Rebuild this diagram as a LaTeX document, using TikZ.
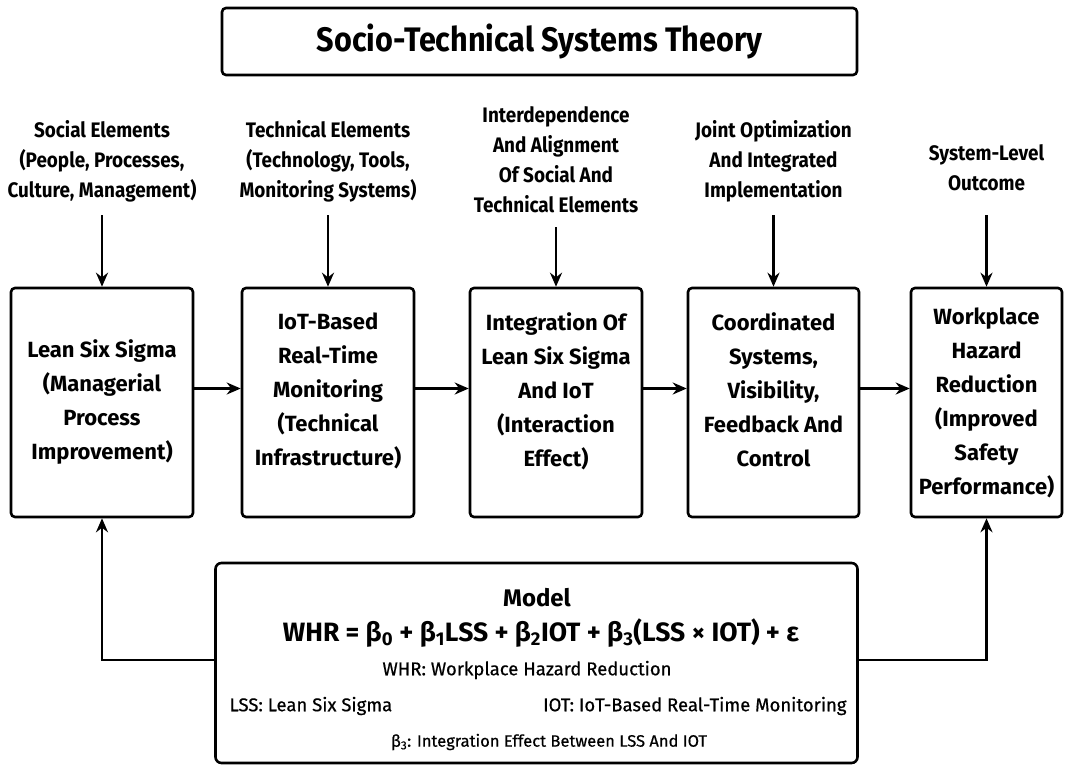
\documentclass[tikz,border=0pt]{standalone}
\usepackage{fontspec}
\setmainfont{Fira Sans}
\newfontfamily\condfont{Fira Sans}[FakeStretch=0.9]
\newfontfamily\legfont{Fira Sans}[FakeBold=0.6]
\usetikzlibrary{arrows.meta}

\tikzset{
  stbox/.style={draw, line width=2.6pt, rounded corners=4pt, align=center,
    minimum height=229pt, font=\fontsize{22}{34}\selectfont\bfseries},
  lift/.style={text depth=26pt},
  elem/.style={align=center, font=\condfont\fontsize{21}{30}\selectfont\bfseries},
  legend/.style={font=\legfont\fontsize{18.5}{20}\selectfont},
  arr/.style={-{Stealth[length=14pt,width=12pt]}, line width=2.4pt}
}

\begin{document}
\begin{tikzpicture}[x=1pt,y=-1pt]
  % Page size in pixels of the reference
  \useasboundingbox (0,0) rectangle (1065,766);

  % Title
  \node[draw, line width=2.6pt, rounded corners=4pt, minimum width=635pt,
        minimum height=67pt, font=\condfont\fontsize{34}{36}\selectfont\bfseries]
        (title) at (539.5,41.5) {Socio-Technical Systems Theory};

  % Main chain of boxes
  \node[stbox, minimum width=182pt] (lss) at (102,402.5)
        {Lean Six Sigma\\(Managerial\\Process\\Improvement)};
  \node[stbox, lift, minimum width=172pt] (iot) at (328,402.5)
        {IoT-Based\\Real-Time\\Monitoring\\(Technical\\Infrastructure)};
  \node[stbox, lift, minimum width=172pt] (integ) at (556,402.5)
        {Integration Of\\Lean Six Sigma\\And IoT\\(Interaction\\Effect)};
  \node[stbox, lift, minimum width=171pt] (coord) at (773.5,402.5)
        {Coordinated\\Systems,\\Visibility,\\Feedback And\\Control};
  \node[stbox, minimum width=151pt] (whr) at (986.5,402.5)
        {Workplace\\Hazard\\Reduction\\(Improved\\Safety\\Performance)};

  % STS elements above the boxes
  \node[elem, anchor=south] (social) at (102,206)
        {Social Elements\\(People, Processes,\\Culture, Management)};
  \node[elem, anchor=south] (techn) at (328,206)
        {Technical Elements\\(Technology, Tools,\\Monitoring Systems)};
  \node[elem, anchor=south] (align) at (556,216)
        {Interdependence\\And Alignment\\Of Social And\\Technical Elements};
  \node[elem, anchor=south] (joint) at (773.5,206)
        {Joint Optimization\\And Integrated\\Implementation};
  \node[elem, anchor=south] (outc) at (986.5,194)
        {System-Level\\Outcome};

  \foreach \src/\dst/\gap in {social/lss/9, techn/iot/9, align/integ/11,
                              joint/coord/9, outc/whr/21}{
    \draw[arr, shorten <=\gap pt] (\src.south) -- (\dst.north);
  }

  % Horizontal flow
  \foreach \a/\b in {lss/iot, iot/integ, integ/coord, coord/whr}{
    \draw[arr] ([yshift=14pt]\a.east) -- ([yshift=14pt]\b.west);
  }

  % Model box
  \node[draw, line width=2.6pt, rounded corners=6pt, minimum width=642pt,
        minimum height=200pt] (model) at (536.5,663) {};
  \node[font=\fontsize{24}{26}\selectfont\bfseries] (mtitle) at (537,598) {Model};
  \node[font=\fontsize{26.5}{28}\selectfont\bfseries] (eq) at (541,633)
    {WHR = β\textsubscript{0} + β\textsubscript{1}LSS + β\textsubscript{2}IOT
     + β\textsubscript{3}(LSS × IOT) + ε};
  \node[legend] (defwhr) at (527,670) {WHR: Workplace Hazard Reduction};
  \node[legend, anchor=west] (deflss) at (226,706) {LSS: Lean Six Sigma};
  \node[legend, anchor=east] (defiot) at (850,706) {IOT: IoT-Based Real-Time Monitoring};
  \node[legend, font=\legfont\fontsize{16.5}{20}\selectfont] (defb3) at (549,742)
        {β\textsubscript{3}: Integration Effect Between LSS And IOT};

  % Feedback lines from the model
  \draw[arr] ([yshift=3pt]model.west) -| (lss.south);
  \draw[arr] ([yshift=3pt]model.east) -| (whr.south);
\end{tikzpicture}
\end{document}
